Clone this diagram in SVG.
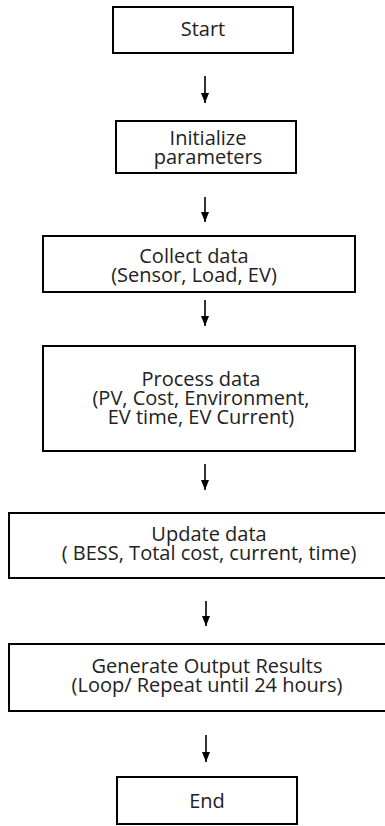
<svg xmlns="http://www.w3.org/2000/svg" width="385" height="826" viewBox="0 0 385 826">
  <defs>
    <marker id="head" viewBox="0 0 10 8" refX="10" refY="4" markerWidth="10" markerHeight="8" markerUnits="userSpaceOnUse" orient="auto">
      <path d="M0,0 L10,4 L0,8 Z" fill="#000"/>
    </marker>
    <style>
      .box { fill: #fff; stroke: #000; stroke-width: 2; }
      .lbl { font-family: "Open Sans", "Noto Sans", sans-serif; font-size: 20px; fill: #222; text-anchor: middle; }
      .arrow { stroke: #000; stroke-width: 1.6; fill: none; }
    </style>
  </defs>
  <rect width="385" height="826" fill="#fff"/>

  <g id="connectors">
    <line class="arrow" x1="205" y1="76" x2="205" y2="103" marker-end="url(#head)"/>
    <line class="arrow" x1="205" y1="197" x2="205" y2="222" marker-end="url(#head)"/>
    <line class="arrow" x1="205" y1="300" x2="205" y2="326" marker-end="url(#head)"/>
    <line class="arrow" x1="205" y1="464" x2="205" y2="490" marker-end="url(#head)"/>
    <line class="arrow" x1="206" y1="601" x2="206" y2="626" marker-end="url(#head)"/>
    <line class="arrow" x1="206" y1="735" x2="206" y2="762" marker-end="url(#head)"/>
  </g>

  <g id="start">
    <rect class="box" x="113" y="7" width="180" height="46"/>
    <text class="lbl" x="203" y="36">Start</text>
  </g>

  <g id="init">
    <rect class="box" x="116" y="121" width="180" height="52"/>
    <text class="lbl" x="208" y="145">Initialize</text>
    <text class="lbl" x="208" y="164">parameters</text>
  </g>

  <g id="collect">
    <rect class="box" x="43" y="236" width="312" height="56"/>
    <text class="lbl" x="194" y="263">Collect data</text>
    <text class="lbl" x="194" y="282">(Sensor, Load, EV)</text>
  </g>

  <g id="process">
    <rect class="box" x="43" y="346" width="312" height="105"/>
    <text class="lbl" x="201" y="386">Process data</text>
    <text class="lbl" x="201" y="405">(PV, Cost, Environment,</text>
    <text class="lbl" x="201" y="424">EV time, EV Current)</text>
  </g>

  <g id="update">
    <rect class="box" x="9" y="513" width="386" height="65"/>
    <text class="lbl" x="209" y="541">Update data</text>
    <text class="lbl" x="209" y="560">( BESS, Total cost, current, time)</text>
  </g>

  <g id="output">
    <rect class="box" x="9" y="644" width="386" height="67"/>
    <text class="lbl" x="207" y="673">Generate Output Results</text>
    <text class="lbl" x="207" y="692">(Loop/ Repeat until 24 hours)</text>
  </g>

  <g id="end">
    <rect class="box" x="117" y="777" width="180" height="47"/>
    <text class="lbl" x="207" y="808">End</text>
  </g>
</svg>
